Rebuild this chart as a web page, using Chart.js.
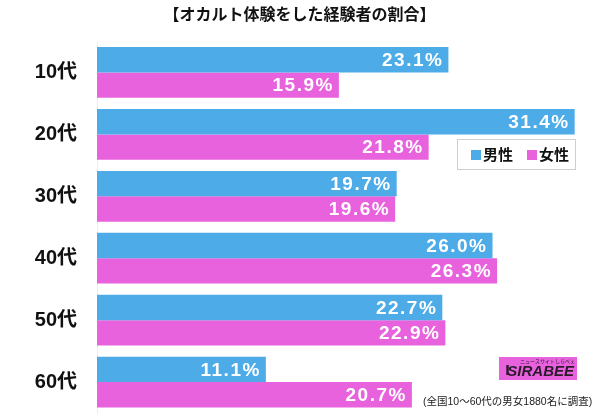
<!DOCTYPE html>
<html>
<head>
<meta charset="utf-8">
<script src="https://cdn.jsdelivr.net/npm/chart.js@4"></script>
<style>
  html, body { margin: 0; padding: 0; background: #fff; }
  #wrap { width: 600px; height: 415px; }
</style>
</head>
<body>
<div id="wrap"><canvas id="chart" width="600" height="415"></canvas></div>
<script>
const categories = ['10代', '20代', '30代', '40代', '50代', '60代'];
const seriesNames = ['男性', '女性'];
const male   = [23.1, 31.4, 19.7, 26.0, 22.7, 11.1];
const female = [15.9, 21.8, 19.6, 26.3, 22.9, 20.7];
const colors = ['#4dabe8', '#e862de'];
const titleText = '【オカルト体験をした経験者の割合】';
const noteText  = '(全国10〜60代の男女1880名に調査)';

const FONT = "'Liberation Sans', 'Noto Sans CJK JP', sans-serif";

// value labels inside the bar end
const valueLabels = {
  id: 'valueLabels',
  afterDatasetsDraw(chart) {
    const ctx = chart.ctx;
    ctx.save();
    ctx.font = 'bold 19px ' + FONT;
    ctx.letterSpacing = '1.5px';
    ctx.fillStyle = '#fff';
    ctx.textAlign = 'right';
    ctx.textBaseline = 'middle';
    chart.data.datasets.forEach((ds, i) => {
      chart.getDatasetMeta(i).data.forEach((bar, j) => {
        ctx.fillText(ds.data[j].toFixed(1) + '%', bar.x - 5, bar.y + 1);
      });
    });
    ctx.restore();
  }
};

// boxed legend, logo and footnote
const extras = {
  id: 'extras',
  afterDraw(chart) {
    const ctx = chart.ctx;
    ctx.save();
    // legend box
    ctx.fillStyle = '#fff';
    ctx.fillRect(457, 139, 119, 31);
    ctx.strokeStyle = '#cfcfcf';
    ctx.lineWidth = 1;
    ctx.strokeRect(457.5, 139.5, 118, 30);
    ctx.font = 'bold 15px ' + FONT;
    ctx.textBaseline = 'middle';
    ctx.textAlign = 'left';
    let x = 471;
    chart.data.datasets.forEach((ds, i) => {
      ctx.fillStyle = ds.backgroundColor;
      ctx.fillRect(x, 150, 10, 10);
      ctx.fillStyle = '#111';
      ctx.fillText(ds.label, x + 12, 155.5);
      x += 56;
    });

    // logo
    ctx.fillStyle = '#e862de';
    ctx.fillRect(499, 357, 78, 23);
    ctx.fillStyle = '#2a1a2a';
    ctx.font = 'italic bold 15px ' + FONT;
    ctx.textAlign = 'right';
    ctx.fillText('SIRABEE', 574, 372);
    ctx.font = 'bold 18px ' + FONT;
    ctx.textAlign = 'left';
    ctx.fillText('ı', 505, 370);
    ctx.font = '5px ' + FONT;
    ctx.fillText('ニュースサイトしらべぇ', 520, 362);

    // footnote
    ctx.fillStyle = '#222';
    ctx.font = '10.5px ' + FONT;
    ctx.textAlign = 'left';
    ctx.fillText(noteText, 423, 402);
    ctx.restore();
  }
};

new Chart(document.getElementById('chart').getContext('2d'), {
  type: 'bar',
  data: {
    labels: categories,
    datasets: [
      { label: seriesNames[0], data: male,   backgroundColor: colors[0] },
      { label: seriesNames[1], data: female, backgroundColor: colors[1] }
    ]
  },
  options: {
    indexAxis: 'y',
    responsive: false,
    animation: false,
    datasets: {
      bar: { categoryPercentage: 0.82, barPercentage: 1.0, borderWidth: 0 }
    },
    layout: { padding: { left: 0, right: 1, top: 0, bottom: 2 } },
    plugins: {
      legend: { display: false },
      tooltip: { enabled: false },
      title: {
        display: true,
        text: titleText,
        color: '#111',
        font: { family: FONT, size: 16, weight: 'bold' },
        padding: { top: 5.5, bottom: 16.8 }
      }
    },
    scales: {
      x: {
        min: 0,
        max: 33,
        display: false,
        grid: { display: false }
      },
      y: {
        afterFit: scale => {
          scale.width = 97;
          scale.paddingTop = 0;
          scale.paddingBottom = 0;
        },
        grid: { display: false, drawTicks: false },
        border: { display: true, color: '#eeeeee', width: 1 },
        ticks: {
          padding: 20,
          color: '#111',
          font: { family: FONT, size: 20, weight: 'bold' }
        }
      }
    }
  },
  plugins: [valueLabels, extras]
});
</script>
</body>
</html>
